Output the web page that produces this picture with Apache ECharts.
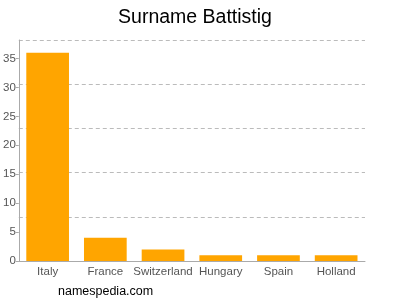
<!DOCTYPE html>
<html>
<head>
<meta charset="utf-8">
<script src="https://cdn.jsdelivr.net/npm/echarts@6/dist/echarts.min.js"></script>
<style>
  html, body { margin: 0; padding: 0; background: #fff; }
  #chart { width: 400px; height: 300px; }
</style>
</head>
<body>
<div id="chart"></div>
<script>
const countries = ['Italy', 'France', 'Switzerland', 'Hungary', 'Spain', 'Holland']
const counts = [36, 4, 2, 1, 1, 1]
const yMax = 38.2

var myChart = echarts.init(document.getElementById('chart'))

myChart.setOption({
  backgroundColor: '#fff',
  animation: false,
  title: {
    text: 'Surname Battistig',
    left: 190,
    textAlign: 'center',
    top: 3,
    textStyle: { fontFamily: 'Liberation Sans, Arial', fontSize: 19.5, fontWeight: 'normal', color: '#000' }
  },
  graphic: [{
    type: 'text',
    left: 58,
    top: 285,
    style: { text: 'namespedia.com', fontFamily: 'Liberation Sans, Arial', fontSize: 12.5, fill: '#000' }
  }],
  grid: { left: 17.5, right: 35, top: 40, bottom: 39 },
  xAxis: {
    type: 'category',
    data: countries,
    axisTick: { alignWithLabel: true, length: 3, lineStyle: { color: '#aaa' } },
    axisLine: { lineStyle: { color: '#aaa' } },
    axisLabel: { interval: 0, fontFamily: 'Liberation Sans, Arial', fontSize: 11.5, color: '#555', margin: 5 }
  },
  yAxis: [{
    type: 'value',
    min: 0,
    max: yMax,
    interval: 5,
    axisLine: { show: true, lineStyle: { color: '#aaa' } },
    axisTick: { show: true, length: 3, lineStyle: { color: '#aaa' } },
    axisLabel: { fontFamily: 'Liberation Sans, Arial', fontSize: 11.5, color: '#555', margin: 3, showMaxLabel: false },
    splitLine: { show: false }
  }, {
    type: 'value',
    min: 0,
    max: yMax,
    interval: yMax / 5,
    position: 'left',
    axisLine: { show: false },
    axisTick: { show: false },
    axisLabel: { show: false },
    splitLine: { show: true, lineStyle: { type: [4, 3], color: '#bbb' } }
  }],
  series: [{
    type: 'bar',
    data: counts,
    barWidth: '74%',
    itemStyle: { color: '#ffa500' }
  }]
})
</script>
</body>
</html>
